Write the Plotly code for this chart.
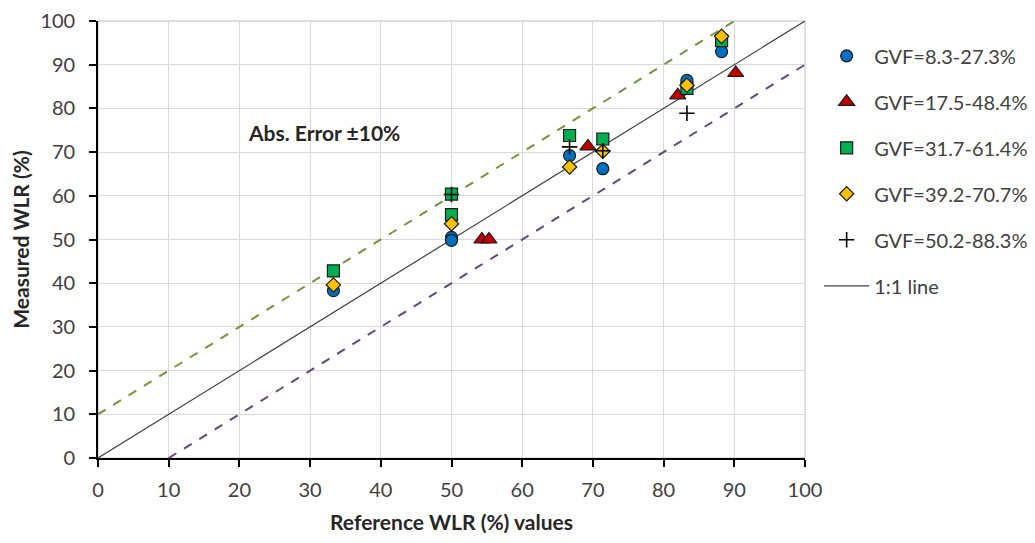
import plotly.graph_objects as go

# Data
blue_x = [33.3, 50.0, 50.0, 66.7, 71.4, 83.3, 88.2]
blue_y = [38.3, 50.5, 49.8, 69.2, 66.2, 86.4, 93.0]

red_x = [54.3, 55.3, 69.3, 82.0, 90.2]
red_y = [50.0, 50.0, 71.3, 83.0, 88.1]

green_x = [33.3, 50.0, 50.0, 66.7, 71.4, 83.3, 88.2]
green_y = [42.8, 60.4, 55.7, 73.8, 73.0, 84.6, 95.5]

yellow_x = [33.3, 50.0, 66.7, 71.4, 83.3, 88.2]
yellow_y = [39.6, 53.6, 66.6, 70.2, 85.3, 96.5]

plus_x = [50.0, 66.7, 71.4, 83.3]
plus_y = [60.3, 71.2, 70.3, 78.9]

line_11 = [0, 100]
upper_x = [0, 90]
upper_y = [10, 100]
lower_x = [10, 100]
lower_y = [0, 90]

labels = ["GVF=8.3-27.3%", "GVF=17.5-48.4%", "GVF=31.7-61.4%",
          "GVF=39.2-70.7%", "GVF=50.2-88.3%", "1:1 line"]
ticks = list(range(0, 101, 10))

FONT = "Lato, 'Open Sans', sans-serif"

fig = go.Figure()

# Error band lines (not in legend)
fig.add_trace(go.Scatter(x=upper_x, y=upper_y, mode="lines", showlegend=False,
                         line=dict(color="#77933C", width=2, dash="dash"), hoverinfo="skip"))
fig.add_trace(go.Scatter(x=lower_x, y=lower_y, mode="lines", showlegend=False,
                         line=dict(color="#604A7B", width=2, dash="dash"), hoverinfo="skip"))
# 1:1 line (drawn before markers, legend entry last)
fig.add_trace(go.Scatter(x=line_11, y=line_11, mode="lines", name=labels[5],
                         legendrank=6, legendgroup="g6",
                         line=dict(color="#404040", width=1.2)))

edge = dict(color="#1a1a1a", width=1.2)
fig.add_trace(go.Scatter(x=blue_x, y=blue_y, mode="markers", name=labels[0],
                         legendrank=1, legendgroup="g1",
                         marker=dict(symbol="circle", size=12, color="#0070C0", line=edge)))
fig.add_trace(go.Scatter(x=red_x, y=red_y, mode="markers", name=labels[1],
                         legendrank=2, legendgroup="g2",
                         marker=dict(symbol="triangle-up", size=14, color="#C00000", line=edge)))
fig.add_trace(go.Scatter(x=green_x, y=green_y, mode="markers", name=labels[2],
                         legendrank=3, legendgroup="g3",
                         marker=dict(symbol="square", size=12, color="#00B050", line=edge)))
fig.add_trace(go.Scatter(x=yellow_x, y=yellow_y, mode="markers", name=labels[3],
                         legendrank=4, legendgroup="g4",
                         marker=dict(symbol="diamond", size=11, color="#FFC000", line=edge)))
fig.add_trace(go.Scatter(x=plus_x, y=plus_y, mode="markers", name=labels[4],
                         legendrank=5, legendgroup="g5",
                         marker=dict(symbol="cross-thin", size=11, color="#000000",
                                     line=dict(color="#000000", width=1.6))))

axis_common = dict(
    range=[0, 100], tickvals=ticks, showgrid=True, gridcolor="#D9D9D9", gridwidth=1,
    zeroline=False, showline=True, linecolor="#000000", linewidth=1.6,
    ticks="outside", ticklen=7, tickcolor="#000000", tickwidth=1.6,
    tickfont=dict(family=FONT, size=20, color="#404040"), automargin=False,
    ticklabeloverflow="allow",
)

fig.update_layout(
    width=1019, height=527,
    margin=dict(l=90, r=222, t=13, b=77, autoexpand=False),
    paper_bgcolor="white", plot_bgcolor="white",
    font=dict(family=FONT, color="#262626"),
    xaxis=dict(**axis_common, ticklabelstandoff=6,
               title=dict(text="<b>Reference WLR (%) values</b>", standoff=16,
                          font=dict(family=FONT, size=21, color="#262626"))),
    yaxis=dict(**axis_common, ticklabelstandoff=10,
               title=dict(text="<b>Measured WLR (%)</b>", standoff=20,
                          font=dict(family=FONT, size=21, color="#262626"))),
    legend=dict(x=1.02, y=0.965, xanchor="left", yanchor="top",
                traceorder="grouped", tracegroupgap=17,
                font=dict(family=FONT, size=20, color="#404040"),
                bgcolor="rgba(0,0,0,0)", itemwidth=45),
    showlegend=True,
    shapes=[dict(type="rect", xref="paper", yref="paper", x0=0, y0=0, x1=1, y1=1,
                 line=dict(color="#BFBFBF", width=1), layer="below")],
    annotations=[dict(x=20.9, y=74.4, xref="x", yref="y", text="<b>Abs. Error ±10%</b>",
                      showarrow=False, xanchor="left", yanchor="middle",
                      font=dict(family=FONT, size=21, color="#262626"))],
)

fig.write_html("out.html")
